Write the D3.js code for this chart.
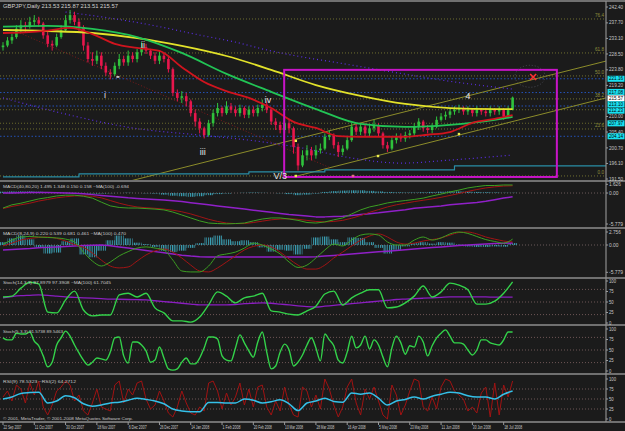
<!DOCTYPE html>
<html><head><meta charset="utf-8">
<script src="https://cdn.jsdelivr.net/npm/d3@7"></script>
<style>html,body{margin:0;padding:0;background:#1b1b1b;overflow:hidden}</style>
</head><body><svg id="c" width="625" height="431"></svg>
<script>
// ---------------- DATA ----------------
const symbolLabel = "GBPJPY,Daily 213.53 215.87 213.51 215.57";
const dateLabels = ["22 Sep 2007","11 Oct 2007","30 Oct 2007","18 Nov 2007","6 Dec 2007","26 Dec 2007","14 Jan 2008","1 Feb 2008","20 Feb 2008","10 Mar 2008","28 Mar 2008","16 Apr 2008","5 May 2008","23 May 2008","11 Jun 2008","30 Jun 2008","18 Jul 2008"];
const dateIdx = [0,7,14,21,28,35,42,49,56,63,70,77,84,91,98,105,112];

const opens = [230.5,231,232.5,233.5,236,237,236.5,238,238.5,237.5,234,231.5,231,233.5,235.5,238.5,240,238,236.5,231,227,226.5,228,225,223,222.5,225,227,226,228,227,229,230.5,229.5,228,226.5,228,227,224,217,215.5,216,214.5,211,208.5,206.5,204.5,208,211,212.5,211,213,212,211,212.5,210.5,212,211,212.5,213.5,212,208.5,207.5,206,208,206.5,201,195.5,198.5,200,198.5,200,200.5,204,204.5,201.5,199.5,200.5,203,207,205.5,207,205,206.5,207.5,205,201.5,200.5,203,204,203.5,204.5,205,207,208.5,206.5,206,207,209,210,210.5,211.5,212,212.5,211.5,212,211,212,211.5,211,212,211.5,212,210,212];
const closes = [231,232.5,233.5,236,237,236.5,238,238.5,237.5,234,231.5,231,233.5,235.5,238.5,240,238,236.5,231,227,226.5,228,225,223,222.5,225,227,226,228,227,229,230.5,229.5,228,226.5,228,227,224,217,215.5,216,214.5,211,208.5,206.5,204.5,208,211,212.5,211,213,212,211,212.5,210.5,212,211,212.5,213.5,212,208.5,207.5,206,208,206.5,201,195.5,198.5,200,198.5,200,200.5,204,204.5,201.5,199.5,200.5,203,207,205.5,207,205,206.5,207.5,205,201.5,200.5,203,204,203.5,204.5,205,207,208.5,206.5,206,207,209,210,210.5,211.5,212,212.5,211.5,212,211,212,211.5,211,212,211.5,212,210,212,215.6];
const highs = [232,233.5,234.5,237,238.5,238,239.5,240,239.5,238,235,232.5,234.5,237,240,241.5,241,239,237,232,229,229.5,229,226,224,226,228.5,228,229.5,229,230,232,231.5,230,229,229.5,229,228,224.5,218,217.5,217,215,212,209.5,207,209,212,214,213,214.5,214,213,213.5,213,213,213,213.5,215,214.5,212.5,209.5,208.5,209.5,209,207,202,200,201.5,201,201.5,202,205,206,205,202.5,201.5,204,208,208,208,208,207.5,209,208,205.5,202.5,204,205,205,205.5,206,208,209.5,209,207.5,208,210,211,211.5,212.5,213,213.5,213,213,212.5,213,212.5,212.5,213,212.5,213,212.5,213,215.9];
const lows = [229.5,230.5,231.5,233,235,235,236,237,236.5,233,230.5,229.5,230.5,233,235,237.5,237,235,229.5,226,225,225.5,224,222,221,222,224,225,225,226,226,228,228.5,227,225.5,225.5,226,223,216,214.5,214,213,210,207,205,203.5,204,207,210,210,210.5,211,210,210,209.5,209.5,210,210,211.5,211,207.5,206,205,205,205,199,194,195,197,197,197.5,199,200,203,200.5,198,198.5,200,202.5,204.5,204.5,204,204,205.5,204,200.5,199.5,200,202,202.5,202.5,203.5,204,206,205.5,205,205,206.5,208.5,209,209.5,210.5,211,210.5,210.5,210,210,210.5,210,210,210.5,210.5,209,209.5,211.8];

// moving averages (sampled at bar index)
const maIdx = [0,10,20,30,40,50,60,70,80,90,100,110,114];
const maYellow = [235.6,235.3,234.7,233.2,230.9,227.9,223.8,219.3,216.1,213.7,212.5,212.2,212.2];
const maGreen = [236.6,236.8,235.9,233.5,228.8,222.6,217.3,212.2,207.8,206.9,207.5,209.0,209.9];
const maRedIdx = [0,5,10,15,20,25,30,35,40,45,50,55,60,65,70,75,80,85,90,95,100,105,110,114];
const maRed = [234.7,234.9,235.4,236.2,234.4,231.5,230.3,229.4,224.6,220.2,217.5,215.5,212.5,208.4,206.6,204.2,204.0,204.0,204.0,204.6,205.4,208.1,209.3,210.4];
const envUpIdx = [14,24,33,44,52,59,67,74,78,91,98,114];
const envUp = [240.9,239.1,237.1,234.1,232.0,229.7,227.6,226.1,225.2,222.3,220.8,218.1];
const envLoIdx = [0,15,29,44,55,66,78,89,100,114];
const envLo = [215.5,210.4,206.6,204.5,203.0,200.9,197.7,196.2,197.1,198.6];
const tealIdx = [0,17,55,72,101,135];
const tealVal = [192.1,193.0,193.6,194.2,195.4,195.4];

// levels & objects
const fibNames = ["76.4","61.8","50.0","38.2","23.6","0.0"];
const fibPrices = [238.85,228.8,222.0,215.2,206.3,192.4];
const oliveLevels = [212.0,208.0];
const blueLevels = [221.16,217.08,213.10,204.14];
const boxLevels = [221.16,217.08,213.10,212.23,207.97,204.14];
const lastPrice = 215.57;
const priceTicks = [242.40,237.70,233.10,228.50,223.80,219.20,210.00,205.40,200.70,196.10,191.50];
const rectIdx = [62.9,123.9];
const rectPrice = [223.8,192.1];
const trendUpIdx = [28.4,134.9], trendUpPrice = [190.9,226.4];
const trendLoIdx = [64.9,134.9], trendLoPrice = [192.1,215.5];
const trendRedIdx = [3.8,73.2], trendRedPrice = [234.7,194.8];
const waveNames = ["i","ii","iii","iv","V/3","4"];
const waveIdx = [22.8,31.3,44.7,59.3,62,104];
const wavePrice = [216.4,231.2,199.5,214.9,192.4,216.1];
const yellowDotIdx = [65.5,83.9,102,65.5];
const yellowDotPrice = [202.8,198.3,204.8,192.4];
const crossIdx = 118.6, crossPrice = 221.7;

// indicator series (every 2 bars)
const macd1Label = "MACD(40,80,20) 1.495 1.348 0.150 0.158  ~MA(100) -0.694";
const macd1Main = [-2.8,-2.2,-1.9,-1.5,-1.1,-0.85,-0.55,-0.4,-0.4,-0.6,-0.95,-1.7,-2.4,-2.7,-2.8,-2.8,-2.9,-3.0,-3.15,-3.55,-4.1,-4.65,-5.2,-5.6,-5.7,-5.75,-5.7,-5.6,-5.2,-4.85,-4.65,-4.65,-4.85,-5.1,-5.5,-5.6,-5.4,-5.0,-4.65,-3.9,-3.15,-2.6,-2.25,-1.85,-1.6,-1.4,-1.2,-0.95,-0.55,-0.2,0.2,0.55,0.95,1.2,1.4,1.4,1.5,1.5];
const macd1Signal = [-2.9,-2.5,-2.2,-1.9,-1.5,-1.2,-0.9,-0.7,-0.55,-0.5,-0.6,-0.9,-1.4,-1.9,-2.3,-2.6,-2.75,-2.85,-3.0,-3.2,-3.5,-3.9,-4.4,-4.9,-5.3,-5.6,-5.7,-5.7,-5.5,-5.25,-5.0,-4.85,-4.8,-4.9,-5.1,-5.3,-5.4,-5.3,-5.1,-4.7,-4.2,-3.6,-3.1,-2.6,-2.2,-1.9,-1.6,-1.35,-1.1,-0.8,-0.45,-0.1,0.3,0.65,0.95,1.15,1.3,1.35];
const macd1MA = [0,0,0.05,0.1,0.1,0.1,0.05,0,-0.05,-0.15,-0.3,-0.45,-0.6,-0.75,-0.9,-1.0,-1.1,-1.2,-1.3,-1.45,-1.6,-1.8,-2.0,-2.2,-2.4,-2.6,-2.8,-3.0,-3.2,-3.4,-3.6,-3.8,-4.0,-4.15,-4.3,-4.45,-4.45,-4.4,-4.35,-4.2,-4.0,-3.85,-3.7,-3.5,-3.3,-3.1,-2.85,-2.7,-2.55,-2.4,-2.2,-2.05,-1.9,-1.75,-1.55,-1.25,-0.95,-0.7];
const macd1Hist = [0.25,0.3,0.3,0.3,0.25,0.15,0.1,0.05,0.02,-0.05,-0.1,-0.1,-0.05,0,0.05,0,-0.05,-0.1,-0.3,-0.5,-0.6,-0.7,-0.6,-0.4,-0.2,-0.1,0,0.05,0.1,0.05,0,-0.05,-0.2,-0.4,-0.3,-0.1,0.2,0.35,0.45,0.5,0.5,0.4,0.3,0.2,0.15,0.1,0.1,0.15,0.2,0.25,0.3,0.3,0.25,0.2,0.15,0.1,0.05,0.05];

const macd2Label = "MACD(8,24,9) 0.220 0.539 0.681 0.461  ~MA(100) 0.470";
const macd2Main = [0.2,1.05,1.7,1.8,1.7,1.6,1.5,1.25,0.65,-1.5,-3.4,-4.45,-3.6,-2.3,-1.4,-0.65,-0.4,-0.65,-1.05,-3.2,-5.5,-5.7,-5.7,-4.45,-2.3,-1.9,-1.5,-0.65,0.4,0,-0.85,-1.9,-3.6,-4.75,-4.25,-2.75,-1.05,0.2,-0.2,1.05,2.1,2.35,2.1,0.65,0,0,1.05,1.7,1.05,1.5,2.35,2.75,2.45,1.8,1.15,0.75,0.4,1.25];
const macd2Signal = [-0.2,0.4,1.05,1.4,1.6,1.7,1.4,0.85,0.1,-0.5,-1.7,-3.2,-4.45,-4.85,-4.65,-3.4,-2.1,-1.25,-0.85,-1.5,-2.75,-4.25,-5.5,-5.7,-4.85,-3.6,-2.3,-1.05,-0.3,0,-0.4,-1.5,-2.95,-4.25,-5.1,-5.1,-4.25,-2.75,-1.5,-0.2,1.05,1.9,2.35,1.7,0.65,0.2,0.4,0.85,1.15,1.5,2.1,2.65,2.75,2.35,1.7,1.25,0.85,0.65];
const macd2MA = [-1.05,-0.95,-0.85,-0.75,-0.6,-0.5,-0.4,-0.3,-0.2,-0.1,-0.05,0,-0.15,-0.4,-0.65,-0.9,-1.15,-1.4,-1.65,-1.9,-2.15,-2.35,-2.5,-2.55,-2.55,-2.55,-2.55,-2.55,-2.55,-2.55,-2.55,-2.55,-2.55,-2.55,-2.55,-2.5,-2.35,-2.2,-2.05,-1.9,-1.75,-1.6,-1.45,-1.3,-1.15,-1.0,-0.85,-0.7,-0.55,-0.4,-0.25,-0.1,0,0.1,0.2,0.3,0.35,0.45];
const macd2Hist = [0.6,1.4,2.0,1.2,-0.5,-1.8,-1.6,0.8,1.4,-2.0,-2.6,-1.2,1.0,2.0,1.4,0.5,0.2,-0.4,-1.2,-1.5,-1.2,-0.6,0.4,1.6,2.0,1.2,0.8,1.0,0.6,-0.5,-1.4,-1.0,-1.2,-2.0,-0.8,1.6,1.8,1.2,0.6,1.6,1.5,0.6,-0.6,-1.8,-1.0,-0.3,0.4,0.6,0.3,0.6,0.5,0.1,-0.3,-0.4,-0.4,-0.3,-0.35,0.4];

const stoch1Label = "Stoch(14,3,3) 97.8979 97.3908  ~MA(100) 61.7045";
const stoch1K = [62,64,83,97,93,26,24,55,76,31,17,19,19,67,71,62,71,36,24,5,5,2,14,43,74,64,48,60,64,71,29,26,21,19,29,40,69,76,43,60,71,79,79,36,38,48,64,88,62,74,95,90,79,45,45,52,71,98];
const stoch1MA = [60,63,65,66,67,66,64,62,61,60,59,58,57,56.5,56,55.5,55,53,51,49,47,45,43,43,43,43,44,46,47,48,47,45,43,41,39,38,40,42,44,46,48,50,52,54,56,57,58,59,60,61,62,62,62,62,62,61.5,61.5,61.7];

// every bar
const stoch2Label = "Stoch(5,3,3) 91.5738 89.5463";
const stoch2K = [79,74,74,90,88,88,93,71,60,36,10,21,62,79,95,83,62,43,26,14,21,31,29,26,45,79,81,36,19,69,69,62,48,21,26,57,31,5,2,5,21,31,17,17,31,55,81,81,76,36,26,24,55,86,67,48,33,69,93,45,5,12,45,64,50,12,21,38,62,79,55,24,88,74,60,26,19,45,83,55,62,83,52,74,62,33,10,55,83,67,40,60,57,83,69,36,60,79,90,98,83,67,67,64,50,38,50,74,74,67,64,62,74,93,93];

const rsiLabel = "RSI(9) 78.5323  ~RSI(2) 64.2712";
const rsiSlow = [50,55,64,66,67,40,45,58,53,38,32,35,40,42,47,52,49,45,38,25,20,18,18,41,41,40,40,50,47,40,43,48,38,21,40,45,52,44,42,65,62,65,52,35,45,49,55,50,57,62,67,65,58,55,55,50,62,70];
const rsiFast = [55,70,45,85,75,40,90,60,95,30,10,35,70,80,95,85,45,60,20,10,40,75,30,25,20,85,95,40,75,60,90,95,50,25,35,70,45,15,5,30,70,40,15,10,30,20,90,95,70,25,65,35,55,90,35,75,30,80,85,30,10,45,20,80,35,10,5,80,70,30,60,25,100,75,35,5,30,80,100,40,10,75,50,80,45,10,0,85,60,10,35,70,100,95,30,20,55,25,80,100,95,70,60,50,20,30,15,65,80,5,90,10,85,55,95];
const copyright = "\u00a9 2001, MetaTrader, \u00a9 2001-2008 MetaQuotes Software Corp.";

// ---------------- DRAW ----------------
const W = 625, H = 431, AX = 606;
const FONT = "'Liberation Sans Narrow','Liberation Sans',Arial,sans-serif";
const svg = d3.select('#c');
svg.append('rect').attr('width', W).attr('height', H).attr('fill', '#1b1b1b');
const defs = svg.append('defs');

const x = d3.scaleLinear().domain([0, 114]).range([3, 512.6]);
const gIdx = d3.range(0, 115, 2);
const bIdx = d3.range(0, 115);

const yMain = d3.scaleLinear().domain([191.5, 242.4]).range([179, 7]);
const yM1 = d3.scaleLinear().domain([-5.779, 1.626]).range([224, 184.3]);
const yM2 = d3.scaleLinear().domain([-5.779, 2.756]).range([272.3, 232]);
const yS1 = d3.scaleLinear().domain([0, 100]).range([323, 281]);
const yS2 = d3.scaleLinear().domain([0, 100]).range([371, 329]);
const yR = d3.scaleLinear().domain([0, 100]).range([419, 379]);

const pat = defs.append('pattern').attr('id', 'hatch').attr('patternUnits', 'userSpaceOnUse')
  .attr('width', 2.235).attr('height', 10);
pat.append('rect').attr('x', 0).attr('y', 0).attr('width', 1.1).attr('height', 10).attr('fill', '#3ba3b8');

function pane(id, top, bottom) {
  defs.append('clipPath').attr('id', 'cp-' + id).append('rect')
    .attr('x', 0).attr('y', top).attr('width', AX).attr('height', bottom - top);
  return svg.append('g').attr('clip-path', `url(#cp-${id})`);
}
function path(g, idxArr, vals, ys, color, w, curve, dash) {
  const ln = d3.line().x((d, k) => x(idxArr[k])).y(d => ys(d)).curve(curve || d3.curveLinear);
  g.append('path').attr('d', ln(vals)).attr('fill', 'none').attr('stroke', color)
    .attr('stroke-width', w).attr('stroke-dasharray', dash || null).attr('stroke-linejoin', 'round');
}
function hline(g, yy, color, dash, w) {
  g.append('line').attr('x1', 0).attr('x2', AX).attr('y1', yy).attr('y2', yy)
    .attr('stroke', color).attr('stroke-width', w || 1).attr('stroke-dasharray', dash || null);
}
function txt(g, s, tx, ty, size, color, anchor, len) {
  const t = g.append('text').attr('x', tx).attr('y', ty).attr('font-family', FONT)
    .attr('font-size', size).attr('fill', color).attr('text-anchor', anchor || 'start').text(s);
  if (len) t.attr('textLength', len).attr('lengthAdjust', 'spacingAndGlyphs');
  return t;
}

// ----- main pane -----
const gm = pane('main', 2, 180);
fibPrices.forEach(p => hline(gm, yMain(p), '#707030', '1,2'));
oliveLevels.forEach(p => hline(gm, yMain(p), '#6a6a2c', '1,2'));
blueLevels.forEach(p => hline(gm, yMain(p), '#2452b8', '1.5,2'));

path(gm, trendUpIdx, trendUpPrice, yMain, '#8c8c2a', 1);
path(gm, trendLoIdx, trendLoPrice, yMain, '#8c8c2a', 1);
path(gm, trendRedIdx, trendRedPrice, yMain, '#7a1a1a', 1, null, '1,2');
path(gm, envUpIdx, envUp, yMain, '#5a2ee6', 1.2, d3.curveMonotoneX, '1,3');
path(gm, envLoIdx, envLo, yMain, '#5a2ee6', 1.2, d3.curveMonotoneX, '1,3');
path(gm, tealIdx, tealVal, yMain, '#2a8ea6', 1.2, d3.curveStepAfter);

const cg = gm.append('g');
bIdx.forEach(i => {
  const up = closes[i] >= opens[i];
  const col = up ? '#2fc23c' : '#e8164c';
  cg.append('line').attr('x1', x(i)).attr('x2', x(i)).attr('y1', yMain(highs[i])).attr('y2', yMain(lows[i]))
    .attr('stroke', col).attr('stroke-width', 1);
  const y1 = yMain(Math.max(opens[i], closes[i])), y2 = yMain(Math.min(opens[i], closes[i]));
  cg.append('rect').attr('x', x(i) - 1.3).attr('width', 2.6).attr('y', y1).attr('height', Math.max(1, y2 - y1))
    .attr('fill', col);
});

path(gm, maIdx, maYellow, yMain, '#e2e22a', 1.8, d3.curveMonotoneX);
path(gm, maIdx, maGreen, yMain, '#22c455', 1.8, d3.curveMonotoneX);
path(gm, maRedIdx, maRed, yMain, '#d0141e', 1.8, d3.curveMonotoneX);

gm.append('rect').attr('x', x(rectIdx[0])).attr('y', yMain(rectPrice[0]))
  .attr('width', x(rectIdx[1]) - x(rectIdx[0])).attr('height', yMain(rectPrice[1]) - yMain(rectPrice[0]))
  .attr('fill', 'none').attr('stroke', '#c814c8').attr('stroke-width', 2);

yellowDotIdx.forEach((d, k) => gm.append('rect').attr('x', x(d) - 1.2).attr('y', yMain(yellowDotPrice[k]) - 1.2)
  .attr('width', 2.4).attr('height', 2.4).attr('fill', '#f0f050'));
gm.append('rect').attr('x', x(78.3) - 1.2).attr('y', yMain(192.4) - 1.2).attr('width', 2.4).attr('height', 2.4).attr('fill', '#e07080');
gm.append('rect').attr('x', x(25.7) - 1.5).attr('y', yMain(221.7) - 0.8).attr('width', 3).attr('height', 1.6).attr('fill', '#d8d8d8');
gm.append('ellipse').attr('cx', x(117.9)).attr('cy', yMain(221.9)).attr('rx', 15).attr('ry', 11)
  .attr('fill', 'none').attr('stroke', '#4a4a55').attr('stroke-dasharray', '1,2');
const cx = x(crossIdx), cy = yMain(crossPrice);
gm.append('path').attr('d', `M${cx-3},${cy-3}L${cx+3},${cy+3}M${cx+3},${cy-3}L${cx-3},${cy+3}`)
  .attr('stroke', '#ff3030').attr('stroke-width', 1.6);

fibNames.forEach((n, k) => txt(gm, n, 604, yMain(fibPrices[k]) - 2, 4.6, '#8f8f3c', 'end'));
waveNames.forEach((n, k) => txt(gm, n, x(waveIdx[k]), yMain(wavePrice[k]), 9, '#e8e8e8', 'middle')
  .attr('dominant-baseline', 'central'));
txt(svg, symbolLabel, 3, 8, 5, '#d0d0d0', 'start', 115);

// ----- MACD 1 -----
const g1 = pane('m1', 182, 227);
hline(g1, yM1(0), '#6a5a5a', '1,2');
gIdx.forEach((d, k) => {
  const v = macd1Hist[k];
  g1.append('rect').attr('x', x(d) - 4.47).attr('width', 8.94)
    .attr('y', Math.min(yM1(0), yM1(v))).attr('height', Math.abs(yM1(v) - yM1(0)))
    .attr('fill', 'url(#hatch)');
});
path(g1, gIdx, macd1MA, yM1, '#9020c8', 1.5);
path(g1, gIdx, macd1Signal, yM1, '#a01414', 1);
path(g1, gIdx, macd1Main, yM1, '#3c9e22', 1);
txt(svg, macd1Label, 3, 188, 4.4, '#c8c8c8', 'start', 126);

// ----- MACD 2 -----
const g2 = pane('m2', 229, 277);
hline(g2, yM2(0), '#6a5a5a', '1,2');
gIdx.forEach((d, k) => {
  const v = macd2Hist[k];
  g2.append('rect').attr('x', x(d) - 4.47).attr('width', 8.94)
    .attr('y', Math.min(yM2(0), yM2(v))).attr('height', Math.abs(yM2(v) - yM2(0)))
    .attr('fill', 'url(#hatch)');
});
path(g2, gIdx, macd2MA, yM2, '#9020c8', 1.5);
path(g2, gIdx, macd2Signal, yM2, '#a01414', 1, d3.curveMonotoneX);
path(g2, gIdx, macd2Main, yM2, '#3c9e22', 1, d3.curveMonotoneX);
txt(svg, macd2Label, 3, 235, 4.4, '#c8c8c8', 'start', 123);

// ----- Stoch 1 -----
const g3 = pane('s1', 279, 324);
[80, 50, 20].forEach(v => hline(g3, yS1(v), '#6e5656', '1,2'));
path(g3, gIdx, stoch1MA, yS1, '#8a1ec0', 1.3, d3.curveMonotoneX);
path(g3, gIdx, stoch1K, yS1, '#33d24a', 1.4, d3.curveMonotoneX);
txt(svg, stoch1Label, 3, 284, 4.4, '#c8c8c8', 'start', 108);

// ----- Stoch 2 -----
const g4 = pane('s2', 326, 373);
[80, 50, 20].forEach(v => hline(g4, yS2(v), '#6e5656', '1,2'));
path(g4, bIdx, stoch2K, yS2, '#33d24a', 1.4, d3.curveMonotoneX);
txt(svg, stoch2Label, 3, 333, 4.4, '#c8c8c8', 'start', 60);

// ----- RSI -----
const g5 = pane('rsi', 375, 421);
[75, 50, 25].forEach(v => hline(g5, yR(v), '#6e5656', '1,2'));
path(g5, bIdx, rsiFast, yR, '#a01212', 1);
path(g5, gIdx, rsiSlow, yR, '#35c0e8', 1.5, d3.curveMonotoneX);
txt(svg, rsiLabel, 3, 383, 4.4, '#c8c8c8', 'start', 73);
txt(svg, copyright, 3, 419.5, 4.4, '#c8c8c8', 'start', 130);

// ----- frame -----
[1, 181, 228, 278, 325, 374, 422].forEach(yy =>
  svg.append('line').attr('x1', 0).attr('x2', W).attr('y1', yy).attr('y2', yy).attr('stroke', '#8e8e8e').attr('stroke-width', 1.6));
svg.append('line').attr('x1', AX).attr('x2', AX).attr('y1', 1).attr('y2', 422).attr('stroke', '#8e8e8e').attr('stroke-width', 1.2);

// ----- right axes -----
function axisLabels(vals, ys, fmt) {
  vals.forEach(v => {
    const yy = ys(v);
    svg.append('line').attr('x1', AX).attr('x2', AX + 2).attr('y1', yy).attr('y2', yy).attr('stroke', '#9a9a9a');
    txt(svg, fmt(v), AX + 3, yy + 1.6, 4.5, '#c8c8c8', 'start', fmt(v).length * 2.35);
  });
}
axisLabels(priceTicks, yMain, v => v.toFixed(2));

// price boxes, nudged apart slightly so their labels stay legible
const boxes = boxLevels.map(p => ({ v: p, y: yMain(p), c: '#18e0f0' }))
  .concat([{ v: lastPrice, y: yMain(lastPrice), c: '#ffffff' }])
  .sort((a, b) => a.y - b.y);
for (let k = 1; k < boxes.length; k++) {
  if (boxes[k].y - boxes[k - 1].y < 6.4) {
    const mid = (boxes[k].y + boxes[k - 1].y) / 2;
    boxes[k - 1].y = mid - 3.2; boxes[k].y = mid + 3.2;
  }
}
boxes.forEach(b => {
  svg.append('rect').attr('x', AX + 1.5).attr('y', b.y - 3).attr('width', 17).attr('height', 6).attr('fill', b.c);
  txt(svg, b.v.toFixed(2), AX + 3, b.y + 1.7, 4.5, '#000', 'start', 14);
});

axisLabels([1.626, 0, -5.779], yM1, v => v === 0 ? '0.00' : v.toFixed(3));
axisLabels([2.756, 0, -5.779], yM2, v => v === 0 ? '0.00' : v.toFixed(3));
axisLabels([100, 75, 50, 25, 0], yS1, v => String(v));
axisLabels([100, 75, 50, 25, 0], yS2, v => String(v));
axisLabels([100, 75, 50, 25, 0], yR, v => String(v));

// ----- date axis -----
dateIdx.forEach((d, k) => {
  const xx = x(d);
  svg.append('line').attr('x1', xx).attr('x2', xx).attr('y1', 422).attr('y2', 425).attr('stroke', '#9a9a9a');
  txt(svg, dateLabels[k], xx + 0.5, 429, 4.5, '#c8c8c8', 'start', 18);
});
</script>
</body></html>
